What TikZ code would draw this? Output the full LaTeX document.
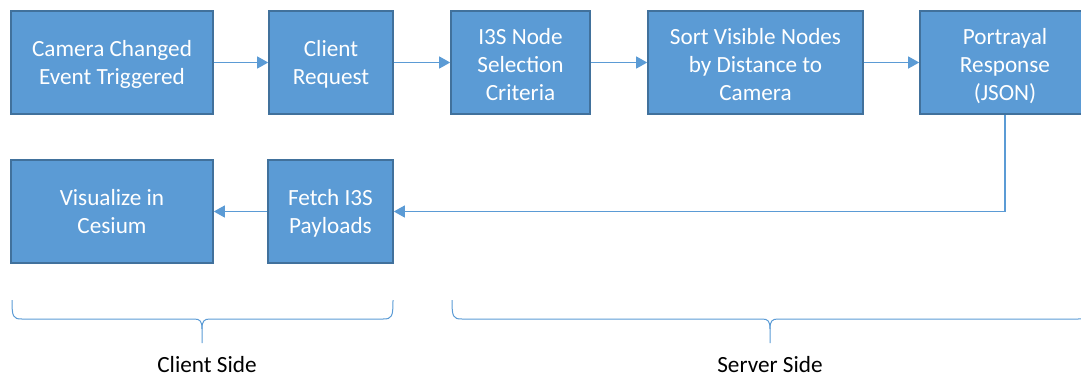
\documentclass[tikz,border=0pt]{standalone}
\usepackage{fontspec}
\setmainfont{Carlito}
\usetikzlibrary{arrows.meta}
\definecolor{boxfill}{HTML}{5B9BD5}
\definecolor{boxline}{HTML}{41719C}
\definecolor{conncol}{HTML}{5B9BD5}
\newcommand{\hstr}[1]{\rule{0pt}{#1pt}}
\newcommand{\dstr}[1]{\rule[-#1pt]{0pt}{#1pt}}
\tikzset{
  stepbox/.style={draw=boxline, fill=boxfill, line width=1.6pt, text=white,
    font=\fontsize{23.2}{28.3}\selectfont, align=center, inner sep=0pt,
    minimum height=103pt},
  conn/.style={draw=conncol, line width=1.2pt, -{Triangle[length=11pt,width=12pt]}},
  bracecol/.style={draw=conncol, line width=1pt},
  sidelabel/.style={font=\fontsize{23.2}{28}\selectfont, text=black, inner sep=0pt, anchor=base}
}
\begin{document}
\begin{tikzpicture}[x=1pt,y=-1pt]
\useasboundingbox (0,0) rectangle (1081,376);
\node[stepbox, minimum width=202pt] (cam) at (112,62.5) {\hstr{22}Camera Changed\\Event Triggered\dstr{6}};
\node[stepbox, minimum width=124pt] (req) at (331,62.5) {\hstr{22}Client\\Request\dstr{6}};
\node[stepbox, minimum width=139pt] (sel) at (520.5,62.5) {\hstr{24}I3S Node\\Selection\\Criteria\dstr{4}};
\node[stepbox, minimum width=215pt] (sort) at (755.5,62.5) {\hstr{24}Sort Visible Nodes\\by Distance to\\Camera\dstr{4}};
\node[stepbox, minimum width=170pt] (por) at (1005,62.5) {\hstr{24}Portrayal\\Response\\(JSON)\dstr{4}};
\node[stepbox, minimum width=202pt] (vis) at (112,211.5) {\hstr{22}Visualize in\\Cesium\dstr{6}};
\node[stepbox, minimum width=125pt] (fet) at (330.5,211.5) {\hstr{22}Fetch I3S\\Payloads\dstr{6}};

\draw[conn] (cam.east) -- (req.west);
\draw[conn] (req.east) -- (sel.west);
\draw[conn] (sel.east) -- (sort.west);
\draw[conn] (sort.east) -- (por.west);
\draw[conn] (por.south) |- (fet.east);
\draw[conn] (fet.west) -- (vis.east);

% client brace
\draw[bracecol] (12,300) .. controls (12,317) and (13,319) .. (22,319) -- (194,319)
  .. controls (200,319) and (202,321) .. (202,329) -- (202,343);
\draw[bracecol] (202,329) .. controls (202,321) and (204,319) .. (210,319) -- (383,319)
  .. controls (392,319) and (393,317) .. (393,300);
% server brace
\draw[bracecol] (452,300) .. controls (452,317) and (453,319) .. (462,319) -- (762,319)
  .. controls (768,319) and (770,321) .. (770,329) -- (770,343);
\draw[bracecol] (770,329) .. controls (770,321) and (772,319) .. (778,319) -- (1078,319)
  .. controls (1087,319) and (1088,317) .. (1088,300);

\node[sidelabel] (cl) at (207,372) {Client Side};
\node[sidelabel] (sv) at (770,372) {Server Side};
\end{tikzpicture}
\end{document}
